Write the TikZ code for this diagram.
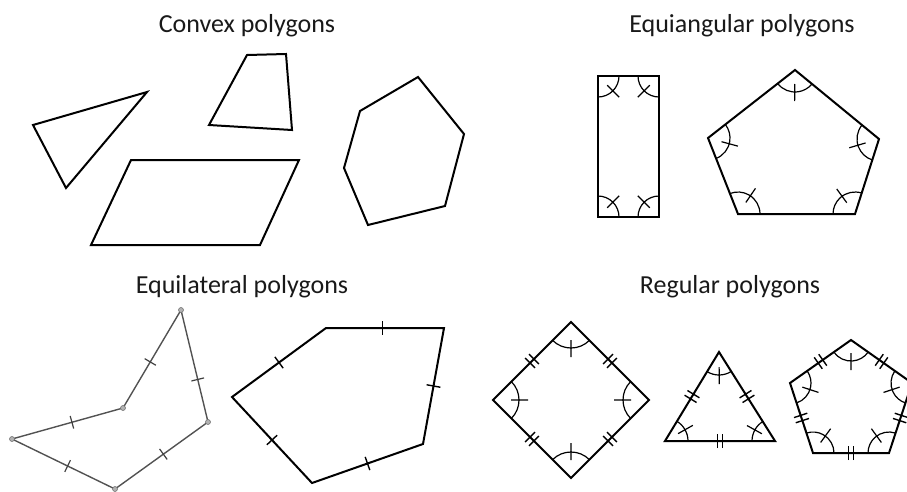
\documentclass[tikz,border=0pt]{standalone}
\usepackage{fontspec}
\setmainfont{Carlito}
\usetikzlibrary{calc}
\tikzset{
 poly/.style={line width=2pt, line join=miter},
 graypoly/.style={line width=1.4pt, draw=black!68, line join=round},
 angarc/.style={line width=1.2pt},
 tickline/.style={line width=1.4pt},
 graytick/.style={line width=1.2pt, draw=black!75},
 title/.style={font=\fontsize{26}{30}\selectfont, anchor=base, text=black!90, inner sep=0pt},
 vdot/.style={circle, inner sep=0pt, minimum size=5pt, draw=black!55, fill=black!30, line width=0.6pt},
}
% angle mark: prev, vertex, next, radius
\newcommand\angmark[4]{%
 \draw[angarc] let \p1=($(#1)-(#2)$), \p2=($(#3)-(#2)$),
   \n1={atan2(\y1,\x1)}, \n2={atan2(\y2,\x2)},
   \n3={mod(\n2-\n1+540,360)-180}, \n4={\n1+\n3/2},
   \n5={#4-8}, \n6={#4+9} in
   ($(#2)+(\n1:#4)$) arc[start angle=\n1, delta angle=\n3, radius=#4]
   ($(#2)+(\n4:\n5)$) -- ($(#2)+(\n4:\n6)$);}
% side mark: A, B, count, position, half length, style
\newcommand\sidemark[6]{%
 \foreach \k in {1,...,#3}{
  \draw[#6] let \p1=($(#2)-(#1)$), \n1={atan2(\y1,\x1)}, \n2={(\k-(#3+1)/2)*5.5} in
   ($(#1)!#4!(#2)$) ++(\n1:\n2) +(\n1+90:#5) -- +(\n1-90:#5);
 }}
\begin{document}
\begin{tikzpicture}[x=1pt,y=1pt]
\useasboundingbox (0,0) rectangle (907,-491);
% titles
\node[title] (t1) at (247,-32) {Convex polygons};
\node[title] (t2) at (742,-32) {Equiangular polygons};
\node[title] (t3) at (242,-293) {Equilateral polygons};
\node[title] (t4) at (730,-293) {Regular polygons};

% ---- convex polygons
\draw[poly] (33,-125) -- (147,-92) -- (66,-188) -- cycle;
\draw[poly] (247,-55) -- (286,-54) -- (292,-130) -- (209,-125) -- cycle;
\draw[poly] (131,-160) -- (299,-160) -- (260,-245) -- (91,-245) -- cycle;
\draw[poly] (418,-77) -- (464,-134) -- (445,-206) -- (368,-225) -- (344,-168) -- (360,-111) -- cycle;

% ---- equiangular polygons
\coordinate (R1) at (598,-76);
\coordinate (R2) at (659,-76);
\coordinate (R3) at (659,-217);
\coordinate (R4) at (598,-217);
\draw[poly] (R1) -- (R2) -- (R3) -- (R4) -- cycle;
\angmark{R4}{R1}{R2}{21}
\angmark{R1}{R2}{R3}{21}
\angmark{R2}{R3}{R4}{21}
\angmark{R3}{R4}{R1}{21}

\coordinate (Q1) at (795,-70);
\coordinate (Q2) at (879,-139);
\coordinate (Q3) at (855,-214);
\coordinate (Q4) at (738,-214);
\coordinate (Q5) at (708,-138);
\draw[poly] (Q1) -- (Q2) -- (Q3) -- (Q4) -- (Q5) -- cycle;
\angmark{Q5}{Q1}{Q2}{22}
\angmark{Q1}{Q2}{Q3}{22}
\angmark{Q2}{Q3}{Q4}{22}
\angmark{Q3}{Q4}{Q5}{22}
\angmark{Q4}{Q5}{Q1}{22}

% ---- equilateral polygons
\coordinate (A) at (181,-310);
\coordinate (B) at (208,-422);
\coordinate (C) at (115,-489);
\coordinate (D) at (12,-439);
\coordinate (E) at (123,-408);
\draw[graypoly] (A) -- (B) -- (C) -- (D) -- (E) -- cycle;
\sidemark{A}{B}{1}{0.62}{6.5}{graytick}
\sidemark{B}{C}{1}{0.48}{6.5}{graytick}
\sidemark{C}{D}{1}{0.46}{6.5}{graytick}
\sidemark{D}{E}{1}{0.54}{6.5}{graytick}
\sidemark{E}{A}{1}{0.47}{6.5}{graytick}
\foreach \v in {A,B,C,D,E} \node[vdot] (dot\v) at (\v) {};

\coordinate (P1) at (326,-328);
\coordinate (P2) at (444,-328);
\coordinate (P3) at (423,-444);
\coordinate (P4) at (312,-483);
\coordinate (P5) at (232,-397);
\draw[poly] (P1) -- (P2) -- (P3) -- (P4) -- (P5) -- cycle;
\sidemark{P1}{P2}{1}{0.48}{7}{tickline}
\sidemark{P2}{P3}{1}{0.5}{7}{tickline}
\sidemark{P3}{P4}{1}{0.5}{7}{tickline}
\sidemark{P4}{P5}{1}{0.5}{7}{tickline}
\sidemark{P5}{P1}{1}{0.5}{7}{tickline}

% ---- regular polygons
\coordinate (S1) at (571,-322);
\coordinate (S2) at (649,-400);
\coordinate (S3) at (571,-478);
\coordinate (S4) at (493,-400);
\draw[poly] (S1) -- (S2) -- (S3) -- (S4) -- cycle;
\sidemark{S1}{S2}{2}{0.5}{7}{tickline}
\sidemark{S2}{S3}{2}{0.5}{7}{tickline}
\sidemark{S3}{S4}{2}{0.5}{7}{tickline}
\sidemark{S4}{S1}{2}{0.5}{7}{tickline}
\angmark{S4}{S1}{S2}{26}
\angmark{S1}{S2}{S3}{26}
\angmark{S2}{S3}{S4}{26}
\angmark{S3}{S4}{S1}{26}

\coordinate (U1) at (719,-352);
\coordinate (U2) at (775,-441);
\coordinate (U3) at (665,-441);
\draw[poly] (U1) -- (U2) -- (U3) -- cycle;
\sidemark{U1}{U2}{2}{0.5}{7}{tickline}
\sidemark{U2}{U3}{2}{0.5}{7}{tickline}
\sidemark{U3}{U1}{2}{0.5}{7}{tickline}
\angmark{U3}{U1}{U2}{23}
\angmark{U1}{U2}{U3}{23}
\angmark{U2}{U3}{U1}{23}

\coordinate (V1) at (851,-340);
\coordinate (V2) at (912,-383);
\coordinate (V3) at (889,-453);
\coordinate (V4) at (813,-453);
\coordinate (V5) at (790,-383);
\draw[poly] (V1) -- (V2) -- (V3) -- (V4) -- (V5) -- cycle;
\sidemark{V1}{V2}{2}{0.5}{7}{tickline}
\sidemark{V2}{V3}{2}{0.5}{7}{tickline}
\sidemark{V3}{V4}{2}{0.5}{7}{tickline}
\sidemark{V4}{V5}{2}{0.5}{7}{tickline}
\sidemark{V5}{V1}{2}{0.5}{7}{tickline}
\angmark{V5}{V1}{V2}{21}
\angmark{V1}{V2}{V3}{21}
\angmark{V2}{V3}{V4}{21}
\angmark{V3}{V4}{V5}{21}
\angmark{V4}{V5}{V1}{21}
\end{tikzpicture}
\end{document}
